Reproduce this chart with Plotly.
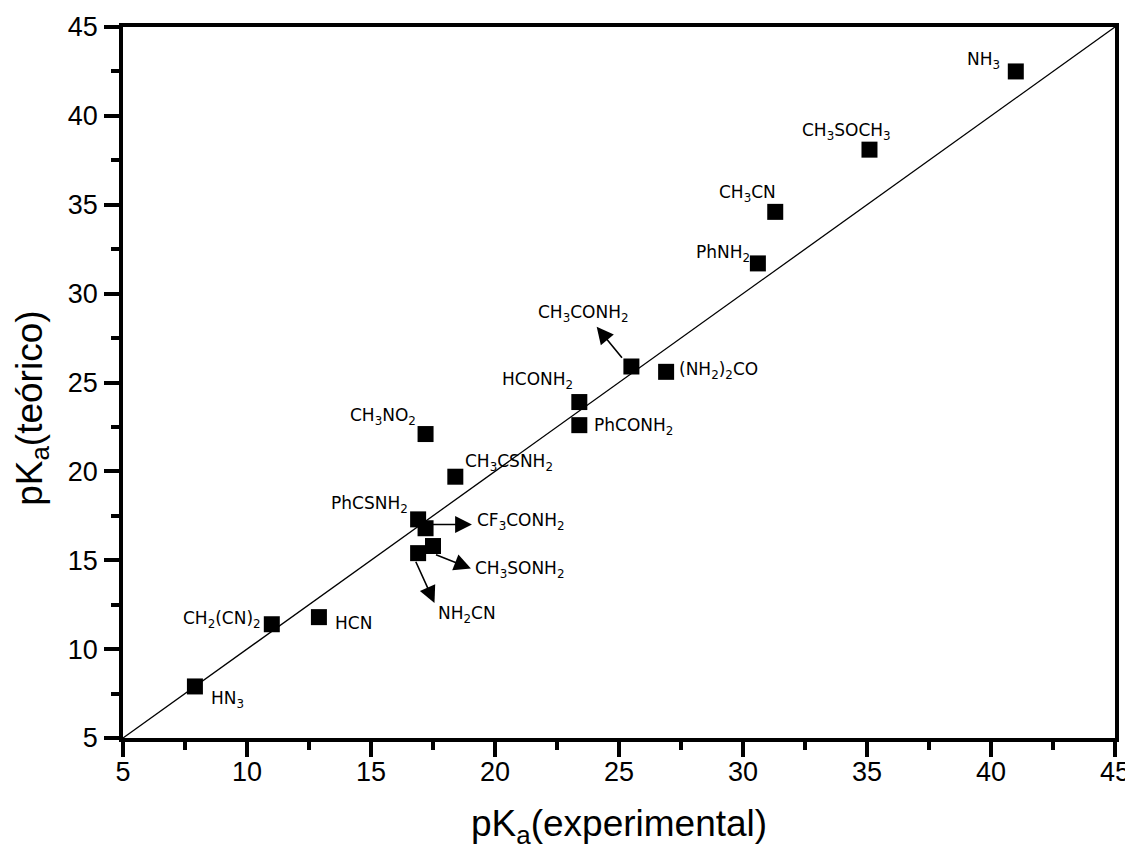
import plotly.graph_objects as go

# Data
compounds = ["HN<sub>3</sub>", "CH<sub>2</sub>(CN)<sub>2</sub>", "HCN", "CH<sub>3</sub>NO<sub>2</sub>",
             "CH<sub>3</sub>CSNH<sub>2</sub>", "PhCSNH<sub>2</sub>", "CF<sub>3</sub>CONH<sub>2</sub>",
             "CH<sub>3</sub>SONH<sub>2</sub>", "NH<sub>2</sub>CN", "CH<sub>3</sub>CONH<sub>2</sub>",
             "(NH<sub>2</sub>)<sub>2</sub>CO", "HCONH<sub>2</sub>", "PhCONH<sub>2</sub>",
             "NH<sub>3</sub>", "CH<sub>3</sub>SOCH<sub>3</sub>", "CH<sub>3</sub>CN", "PhNH<sub>2</sub>"]
pka_exp = [7.9, 11.0, 12.9, 17.2, 18.4, 16.9, 17.2, 17.5, 16.9, 25.5, 26.9, 23.4, 23.4,
           41.0, 35.1, 31.3, 30.6]
pka_teo = [7.9, 11.4, 11.8, 22.1, 19.7, 17.3, 16.8, 15.8, 15.4, 25.9, 25.6, 23.9, 22.6,
           42.5, 38.1, 34.6, 31.7]

# label anchor positions (left edge, middle) in data units
label_x = [8.48, 7.35, 13.48, 14.08, 18.72, 13.32, 19.20, 19.12, 17.63, 21.66, 27.34, 20.21, 23.92,
           38.95, 32.30, 28.95, 28.03]
label_y = [7.18, 11.68, 11.45, 23.10, 20.51, 18.15, 17.19, 14.49, 11.96, 28.90, 25.69, 25.13, 22.54,
           43.14, 39.14, 35.65, 32.28]

# arrows: (compound index, tail x, tail y, head x, head y)
arrows = [(9, 25.17, 26.31, 24.10, 28.13),
          (6, 17.39, 17.01, 19.07, 17.01),
          (7, 17.56, 15.34, 19.03, 14.53),
          (8, 16.78, 15.00, 17.56, 12.60)]

axis_range = [5, 45]
x_title = "pK<sub>a</sub>(experimental)"
y_title = "pK<sub>a</sub>(teórico)"

fig = go.Figure()
fig.add_trace(go.Scatter(x=axis_range, y=axis_range, mode="lines",
                         line=dict(color="black", width=1.3), hoverinfo="skip", showlegend=False))
fig.add_trace(go.Scatter(x=pka_exp, y=pka_teo, mode="markers",
                         marker=dict(symbol="square", size=16, color="black", line=dict(width=0)),
                         text=compounds, showlegend=False))

for name, lx, ly in zip(compounds, label_x, label_y):
    fig.add_annotation(x=lx, y=ly, xref="x", yref="y", text=name, showarrow=False,
                       xanchor="left", yanchor="middle",
                       font=dict(family="DejaVu Sans", size=17, color="black"))

for idx, tx, ty, hx, hy in arrows:
    fig.add_annotation(x=hx, y=hy, ax=tx, ay=ty, xref="x", yref="y", axref="x", ayref="y",
                       text="", showarrow=True, arrowhead=2, arrowsize=2.1, arrowwidth=1.6,
                       arrowcolor="black", standoff=0, startstandoff=0)

axis_common = dict(range=axis_range, dtick=5, showgrid=False, zeroline=False, automargin=False,
                   showline=True, linewidth=3.5, linecolor="black", mirror=True,
                   ticks="outside", ticklen=15, tickwidth=3.5, tickcolor="black",
                   minor=dict(dtick=2.5, ticks="outside", ticklen=8, tickwidth=3.5, tickcolor="black"),
                   tickfont=dict(family="Liberation Sans, Arial", size=27, color="black"))

fig.update_xaxes(**axis_common, ticklabelstandoff=-8)
fig.update_yaxes(**axis_common, ticklabelstandoff=1)

title_font = dict(family="Liberation Sans, Arial", size=37, color="black")
fig.add_annotation(text=x_title, xref="paper", yref="paper", x=0.5, y=-0.124,
                   xanchor="center", yanchor="middle", showarrow=False, font=title_font)
fig.add_annotation(text=y_title, xref="paper", yref="paper", x=-0.092, y=0.464,
                   xanchor="center", yanchor="middle", showarrow=False, textangle=-90,
                   font=title_font)

fig.update_layout(width=1125, height=844, plot_bgcolor="white", paper_bgcolor="white",
                  margin=dict(l=115, r=18, t=19, b=114), showlegend=False)

fig.write_html("out.html")
